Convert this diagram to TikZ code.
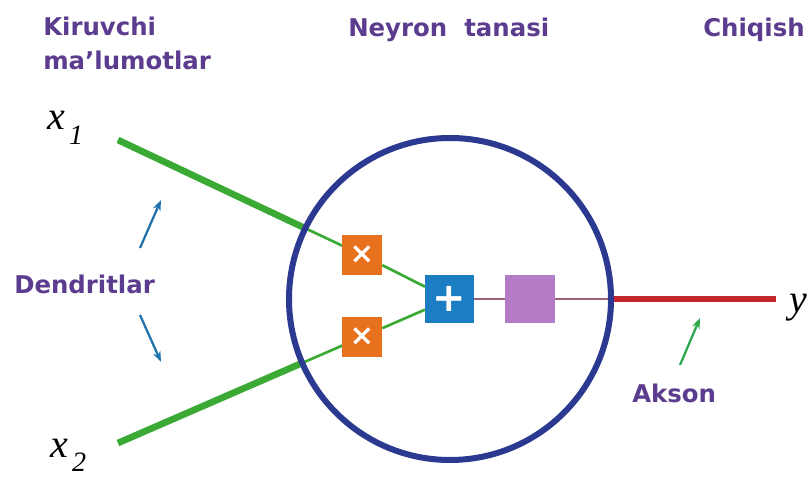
\documentclass[tikz,border=0pt]{standalone}
\usepackage{fontspec}
\setmainfont{DejaVu Sans}
\newfontfamily\serifvar{Liberation Serif}
\usetikzlibrary{intersections,arrows.meta}
\definecolor{txtpurple}{HTML}{5B3C8E}
\definecolor{circblue}{HTML}{2B3990}
\definecolor{boxorange}{HTML}{E8711E}
\definecolor{boxblue}{HTML}{1B7EC2}
\definecolor{boxpurple}{HTML}{B47CC6}
\definecolor{dgreen}{HTML}{3AAA35}
\definecolor{axred}{HTML}{C1272D}
\definecolor{arrblue}{HTML}{1F72AC}
\definecolor{arrgreen}{HTML}{2EA84F}
\definecolor{thinmauve}{HTML}{A0607A}
\begin{document}
\begin{tikzpicture}[x=0.75pt,y=-0.75pt,
  lab/.style={text=txtpurple,font=\bfseries\fontsize{18.3}{21}\selectfont,inner sep=0,anchor=base west},
  var/.style={font=\serifvar\itshape\fontsize{30}{30}\selectfont,inner sep=0,anchor=base west},
  mulbox/.style={fill=boxorange,minimum size=30pt,inner sep=0,text=white,font=\bfseries\fontsize{22}{22}\selectfont},
  sumbox/.style={fill=boxblue,minimum size=36.5pt,inner sep=0,text=white,font=\bfseries\fontsize{30}{30}\selectfont},
  actbox/.style={fill=boxpurple,minimum width=37.5pt,minimum height=36pt,inner sep=0},
  dthick/.style={draw=dgreen,line width=5pt},
  dthin/.style={draw=dgreen,line width=2pt},
  pointer/.style={line width=1.7pt,-{Stealth[length=8pt,width=6pt]}}
]
\useasboundingbox (0,0) rectangle (809,477);

% labels
\node[lab] (kir) at (43,36) {Kiruvchi};
\node[lab] (mal) at (43,70) {ma’lumotlar};
\node[lab] (ney) at (348,37) {Neyron\ \ tanasi};
\node[lab] (chi) at (703,37) {Chiqish};
\node[lab] (den) at (14,293) {Dendritlar};
\node[lab] (aks) at (632,402) {Akson};

% variables
\node[var] (x1) at (47,130) {x\hspace{3pt}\raisebox{-11pt}{\fontsize{21}{21}\selectfont 1}};
\node[var] (x2) at (50,457) {x\hspace{3pt}\raisebox{-11pt}{\fontsize{21}{21}\selectfont 2}};
\node[var] (y) at (789,312) {y};

% body
\node[circle,minimum size=241.5pt,inner sep=0] (body) at (450,299) {};
\path[name path=circ] (450,299) circle[radius=161];

% boxes
\node[mulbox] (m1) at (362,255) {×};
\node[mulbox] (m2) at (362,337) {×};
\node[sumbox] (sum) at (449.5,299) {+};
\node[actbox] (act) at (530,299) {};

\coordinate (s1) at (118,140);
\coordinate (s2) at (118,443);
\coordinate (yend) at (776,299);

% dendrites
\draw[dthin] (s1) -- (m1.center);
\draw[dthin] (s2) -- (m2.center);
\path[name path=l1] (s1) -- (m1.center);
\path[name path=l2] (s2) -- (m2.center);
\path[name intersections={of=circ and l1,by=i1}];
\path[name intersections={of=circ and l2,by=i2}];
\draw[dthick] (s1) -- (i1);
\draw[dthick] (s2) -- (i2);
\draw[dthin] (m1) -- (sum);
\draw[dthin] (m2) -- (sum);

% axon
\draw[draw=thinmauve,line width=1.2pt] (sum) -- (act) -- (body.east);
\draw[draw=axred,line width=4.5pt] (body.east) -- (yend);

% circle on top
\draw[draw=circblue,line width=4.5pt] (body.center) circle[radius=161];

% redraw boxes on top
\node[mulbox] at (m1) {×};
\node[mulbox] at (m2) {×};
\node[sumbox] at (sum) {+};
\node[actbox] at (act) {};

% pointers
\coordinate (d1a) at (140,248); \coordinate (d1b) at (161,200);
\coordinate (d2a) at (140,315); \coordinate (d2b) at (161,362);
\coordinate (aka) at (680,365); \coordinate (akb) at (700,318);
\draw[pointer,arrblue] (d1a) -- (d1b);
\draw[pointer,arrblue] (d2a) -- (d2b);
\draw[pointer,arrgreen] (aka) -- (akb);
\end{tikzpicture}
\end{document}
